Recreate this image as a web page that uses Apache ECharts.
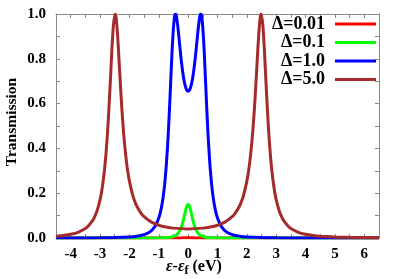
<!DOCTYPE html>
<html><head><meta charset="utf-8">
<script src="https://cdn.jsdelivr.net/npm/echarts@6/dist/echarts.min.js"></script>
<style>html,body{margin:0;padding:0;background:#fff}#c{width:399px;height:279px}</style>
</head><body><div id="c"></div>
<script>
// Δ=0.01
const xD001 = [-4.5, -1, -0.5, -0.3, -0.2, -0.1, 0, 0.1, 0.2, 0.3, 0.5, 1, 6.5];
const tD001 = [0, 0, 0.0001, 0.0003, 0.0006, 0.0012, 0.0015, 0.0012, 0.0006, 0.0003, 0.0001, 0, 0];
// Δ=0.1
const xD01 = [-4.5, -2, -1.5, -1, -0.8, -0.6, -0.5, -0.4, -0.35, -0.3, -0.25, -0.2, -0.175, -0.15, -0.125, -0.1, -0.075, -0.05, -0.025, 0, 0.025, 0.05, 0.075, 0.1, 0.125, 0.15, 0.175, 0.2, 0.25, 0.3, 0.35, 0.4, 0.5, 0.6, 0.8, 1, 1.5, 2, 6.5];
const tD01 = [0, 0, 0.0001, 0.0006, 0.0013, 0.0038, 0.0069, 0.0136, 0.0195, 0.0286, 0.042, 0.0612, 0.073, 0.0866, 0.101, 0.1156, 0.129, 0.140, 0.147, 0.150, 0.147, 0.140, 0.129, 0.1156, 0.101, 0.0866, 0.073, 0.0612, 0.042, 0.0286, 0.0195, 0.0136, 0.0069, 0.0038, 0.0013, 0.0006, 0.0001, 0, 0];
// Δ=1.0
const xD1 = [-4.5, -4, -3, -2.5, -2, -1.75, -1.5, -1.35, -1.25, -1.2, -1.1, -1, -0.95, -0.9, -0.85, -0.8, -0.75, -0.7, -0.675, -0.65, -0.625, -0.6, -0.575, -0.55, -0.525, -0.5, -0.475, -0.45, -0.43, -0.4, -0.35, -0.3, -0.25, -0.2, -0.15, -0.1, -0.05, 0, 0.05, 0.1, 0.15, 0.2, 0.25, 0.3, 0.35, 0.4, 0.43, 0.45, 0.475, 0.5, 0.525, 0.55, 0.575, 0.6, 0.625, 0.65, 0.675, 0.7, 0.75, 0.8, 0.85, 0.9, 0.95, 1, 1.1, 1.2, 1.25, 1.35, 1.5, 1.75, 2, 2.5, 3, 4, 5, 6.5];
const tD1 = [0.0002, 0.0003, 0.0008, 0.0018, 0.0045, 0.0078, 0.015, 0.0237, 0.033, 0.0396, 0.058, 0.089, 0.1121, 0.143, 0.1837, 0.239, 0.313, 0.411, 0.470, 0.535, 0.606, 0.680, 0.754, 0.825, 0.888, 0.939, 0.975, 0.995, 1.0, 0.990, 0.943, 0.878, 0.812, 0.756, 0.711, 0.680, 0.661, 0.655, 0.661, 0.680, 0.711, 0.756, 0.812, 0.878, 0.943, 0.990, 1.0, 0.995, 0.975, 0.939, 0.888, 0.825, 0.754, 0.680, 0.606, 0.535, 0.470, 0.411, 0.313, 0.239, 0.1837, 0.143, 0.1121, 0.089, 0.058, 0.0396, 0.033, 0.0237, 0.015, 0.0078, 0.0045, 0.0018, 0.0008, 0.0003, 0.0001, 0];
// Δ=5.0
const xD5 = [-4.5, -4.25, -4, -3.75, -3.5, -3.4, -3.25, -3.2, -3.1, -3, -2.95, -2.9, -2.85, -2.8, -2.75, -2.7, -2.65, -2.6, -2.55, -2.49, -2.45, -2.4, -2.35, -2.3, -2.25, -2.2, -2.15, -2.1, -2.05, -2, -1.9, -1.85, -1.75, -1.6, -1.5, -1.25, -1, -0.75, -0.5, 0, 0.5, 0.75, 1, 1.25, 1.5, 1.6, 1.75, 1.85, 1.9, 2, 2.05, 2.1, 2.15, 2.2, 2.25, 2.3, 2.35, 2.4, 2.45, 2.49, 2.55, 2.6, 2.65, 2.7, 2.75, 2.8, 2.85, 2.9, 2.95, 3, 3.1, 3.2, 3.25, 3.4, 3.5, 3.75, 4, 4.25, 4.5, 5, 5.5, 6, 6.5];
const tD5 = [0.0082, 0.0114, 0.0166, 0.0255, 0.0423, 0.0533, 0.0782, 0.0899, 0.1217, 0.170, 0.204, 0.247, 0.302, 0.372, 0.461, 0.571, 0.698, 0.831, 0.942, 1.0, 0.980, 0.900, 0.787, 0.670, 0.563, 0.473, 0.400, 0.340, 0.2925, 0.254, 0.197, 0.1756, 0.1429, 0.110, 0.0950, 0.0707, 0.0570, 0.0489, 0.0441, 0.0407, 0.0441, 0.0489, 0.0570, 0.0707, 0.0950, 0.110, 0.1429, 0.1756, 0.197, 0.254, 0.2925, 0.340, 0.400, 0.473, 0.563, 0.670, 0.787, 0.900, 0.980, 1.0, 0.942, 0.831, 0.698, 0.571, 0.461, 0.372, 0.302, 0.247, 0.204, 0.170, 0.1217, 0.0899, 0.0782, 0.0533, 0.0423, 0.0255, 0.0166, 0.0114, 0.0082, 0.0046, 0.0028, 0.0018, 0.0013];

const names = ['Δ=0.01', 'Δ=0.1', 'Δ=1.0', 'Δ=5.0'];
const colors = ['#ff0000', '#00ff00', '#0000ff', '#a52a2a'];
const xs = [xD001, xD01, xD1, xD5];
const ts = [tD001, tD01, tD1, tD5];

const FONT = 'Liberation Serif';
const AX = '#888888';
const tickStyle = { show: true, inside: true, length: 4, lineStyle: { color: AX } };
const chart = echarts.init(document.getElementById('c'), null, { renderer: 'canvas' });
function xAx(pos, labels) {
  return {
    type: 'value', position: pos, min: -4.5, max: 6.5, interval: 0.5,
    axisLine: { show: true, onZero: false, lineStyle: { color: AX, width: 1 } },
    axisTick: tickStyle, splitLine: { show: false },
    axisLabel: {
      show: labels, margin: 9, color: '#000', fontFamily: FONT, fontWeight: 'bold', fontSize: 15,
      formatter: v => (Number.isInteger(v) ? String(v) : '')
    }
  };
}
function yAx(pos, labels) {
  return {
    type: 'value', position: pos, min: 0, max: 1, interval: 0.2,
    axisLine: { show: true, onZero: false, lineStyle: { color: AX, width: 1 } },
    axisTick: tickStyle, splitLine: { show: false },
    minorTick: { show: true, splitNumber: 2, length: 4, lineStyle: { color: AX } },
    axisLabel: {
      show: labels, margin: 10, color: '#000', fontFamily: FONT, fontWeight: 'bold', fontSize: 15,
      formatter: v => v.toFixed(1)
    }
  };
}
const yMain = yAx('left', true);
yMain.name = 'Transmission';
yMain.nameLocation = 'middle';
yMain.nameGap = 36;
yMain.nameMoveOverlap = false;
yMain.nameTextStyle = { color: '#000', fontFamily: FONT, fontWeight: 'bold', fontSize: 15.5, padding: [0, 0, 0, 8] };

chart.setOption({
  animation: false,
  backgroundColor: '#fff',
  grid: { left: 56, top: 14, right: 20, bottom: 41, containLabel: false, outerBoundsMode: 'none' },
  xAxis: [xAx('bottom', true), xAx('top', false)],
  yAxis: [yMain, yAx('right', false)],
  legend: {
    orient: 'vertical', right: 23, top: 15, padding: 0, itemGap: 0.5, align: 'right',
    icon: 'rect', itemWidth: 41, itemHeight: 3,
    data: names,
    textStyle: { color: '#000', fontFamily: FONT, fontWeight: 'bold', fontSize: 18, lineHeight: 15, padding: [0, 5, 0, 0] }
  },
  graphic: [{
    type: 'text', left: 166, top: 259,
    style: {
      text: '{i|ε}{a|-}{i|ε}{s|f}{a| (eV)}',
      rich: {
        i: { fontFamily: FONT, fontWeight: 'bold', fontStyle: 'italic', fontSize: 16, fill: '#000' },
        a: { fontFamily: FONT, fontWeight: 'bold', fontSize: 16, fill: '#000' },
        s: { fontFamily: FONT, fontWeight: 'bold', fontSize: 12, fill: '#000', padding: [7, 0, 0, 0] }
      }
    }
  }],
  series: names.map((n, i) => ({
    name: n, type: 'line', xAxisIndex: 0, yAxisIndex: 0,
    data: xs[i].map((x, k) => [x, ts[i][k]]),
    showSymbol: false, smooth: 0.2,
    lineStyle: { color: colors[i], width: 3 }, itemStyle: { color: colors[i] },
    z: 2 + i
  }))
});
</script></body></html>
